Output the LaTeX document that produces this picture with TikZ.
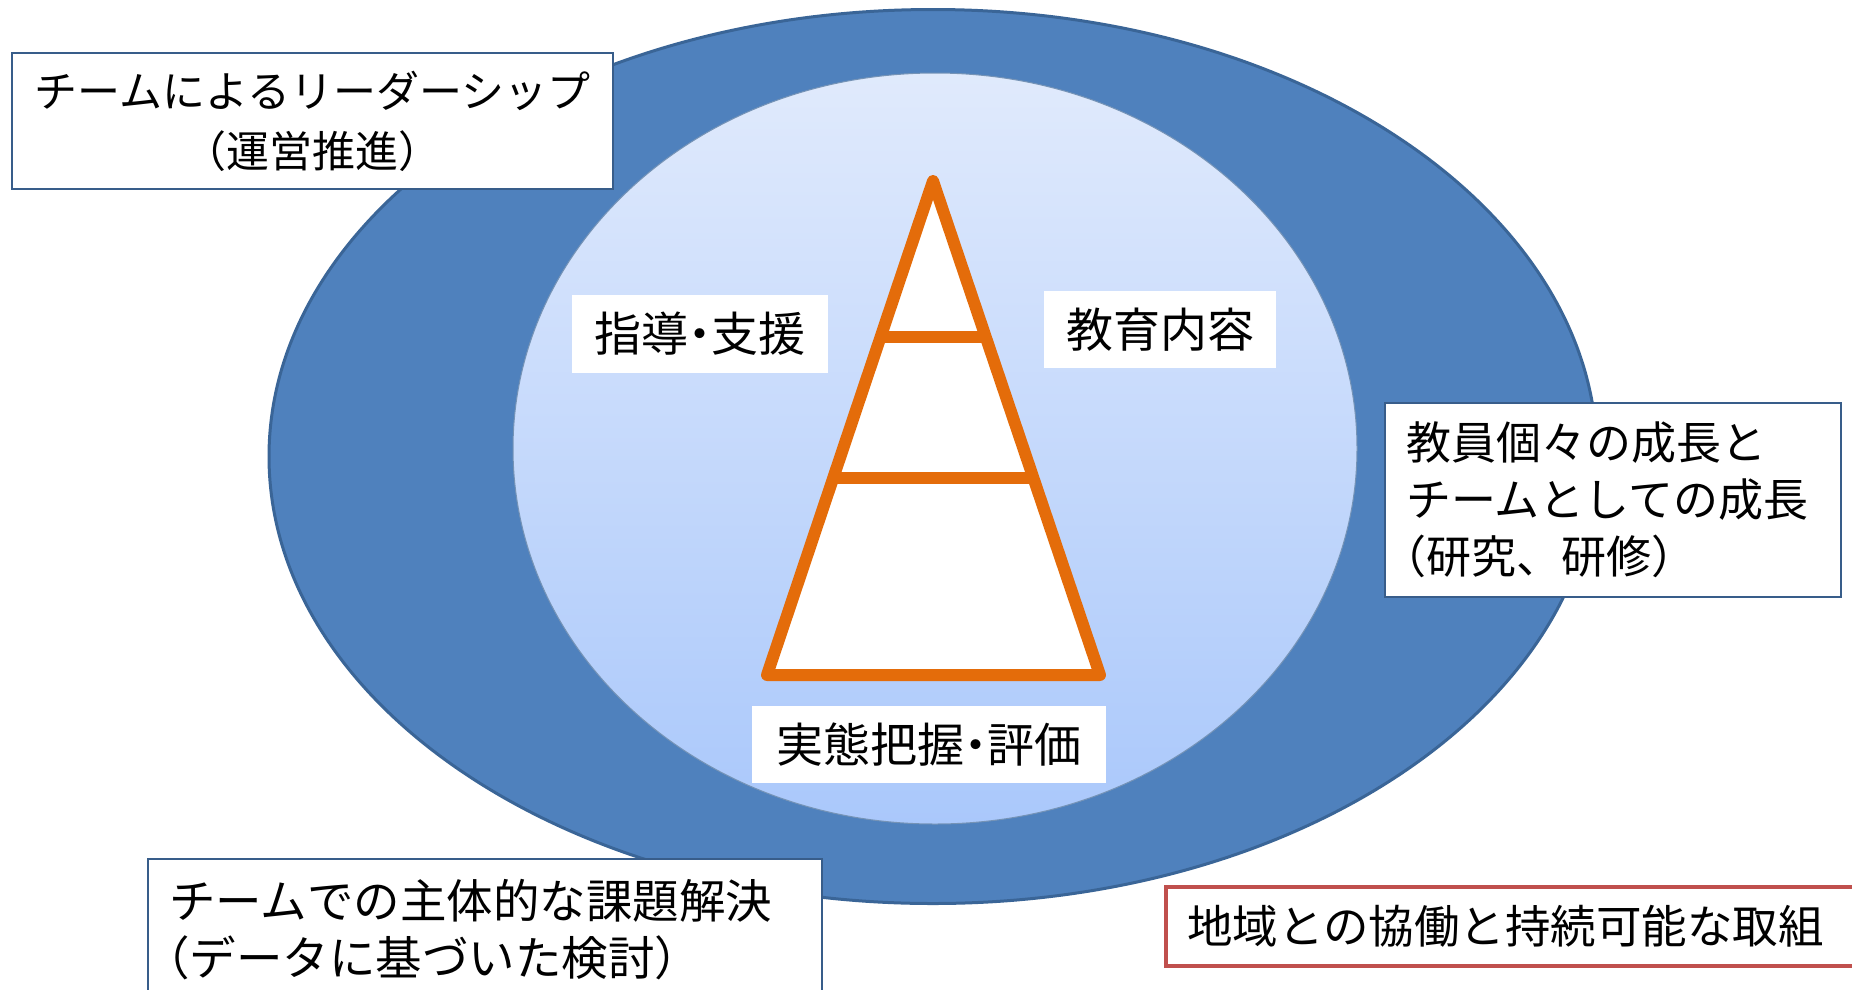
\documentclass[tikz,border=0pt]{standalone}
\usepackage{fontspec}
\setmainfont{Noto Sans CJK JP}
\newcommand{\pp}[1]{{\addfontfeatures{RawFeature=+palt}#1}}
\newcommand{\lpar}{\leavevmode\kern-0.55em（}
\definecolor{outerblue}{HTML}{4F81BD}
\definecolor{outerline}{HTML}{3A6597}
\definecolor{innertop}{HTML}{E0EAFC}
\definecolor{innerbot}{HTML}{AAC8FB}
\definecolor{pyr}{HTML}{E46C0A}
\definecolor{boxline}{HTML}{385D8A}
\definecolor{redline}{HTML}{C0504D}
\tikzset{
  outerbox/.style={draw=boxline, line width=2pt, fill=white, inner sep=0pt},
  redbox/.style={draw=redline, line width=4pt, fill=white, inner sep=0pt},
  lbl/.style={fill=white, inner sep=0pt, align=center, font=\fontsize{47}{54}\selectfont},
  pyrline/.style={draw=pyr, line width=12pt, line join=round, line cap=round},
}
\begin{document}
\begin{tikzpicture}[x=1pt,y=-1pt]
\useasboundingbox (0,0) rectangle (1852,989);
\fill[white] (0,0) rectangle (1852,989);
% outer ellipse
\fill[outerblue, draw=outerline, line width=3pt] (933,456.5) ellipse [x radius=664pt, y radius=447pt];
% inner ellipse
\shade[top color=innertop, bottom color=innerbot] (935,448.5) ellipse [x radius=422pt, y radius=375.5pt];
\draw[outerline!70, line width=1pt] (935,448.5) ellipse [x radius=422pt, y radius=375.5pt];
% pyramid
\coordinate (apex) at (933,181);
\coordinate (bl) at (767,675);
\coordinate (br) at (1100,675);
\coordinate (l1) at (881.3,337);
\coordinate (r1) at (985,337);
\coordinate (l2) at (833.6,478);
\coordinate (r2) at (1033,478);
\filldraw[pyrline, fill=white] (apex) -- (bl) -- (br) -- cycle;
\draw[pyrline, line cap=butt] (l1) -- (r1);
\draw[pyrline, line cap=butt] (l2) -- (r2);
% pyramid labels
\node[lbl, minimum width=256pt, minimum height=78pt] (shido) at (700,334) {指導\pp{・}支援};
\node[lbl, minimum width=232pt, minimum height=77pt] (kyoiku) at (1160,329.5) {教育内容};
\node[lbl, minimum width=354pt, minimum height=77pt] (jittai) at (929,744.5) {実態把握\pp{・}評価};
% outer boxes
\node[outerbox, minimum width=601pt, minimum height=136pt, align=center, font=\fontsize{43}{60}\selectfont] (lead) at (312.5,121) {チームによるリーダーシップ\\（運営推進）};
\node[outerbox, minimum width=456pt, minimum height=194pt, text width=414pt, align=left, font=\fontsize{45}{57}\selectfont] (grow) at (1613,500) {教員個々の成長と\\チームとしての成長\\\lpar 研究、研修）};
\node[outerbox, minimum width=674pt, minimum height=141pt, text width=632pt, align=left, font=\fontsize{46.5}{57}\selectfont] (kadai) at (485,929.5) {チームでの主体的な課題解決\\\lpar データに基づいた検討）};
\node[redbox, minimum width=704pt, minimum height=79pt, text width=662pt, align=left, font=\fontsize{45.5}{52}\selectfont] (chiiki) at (1518,926.5) {地域との協働と持続可能な取組};
\end{tikzpicture}
\end{document}
